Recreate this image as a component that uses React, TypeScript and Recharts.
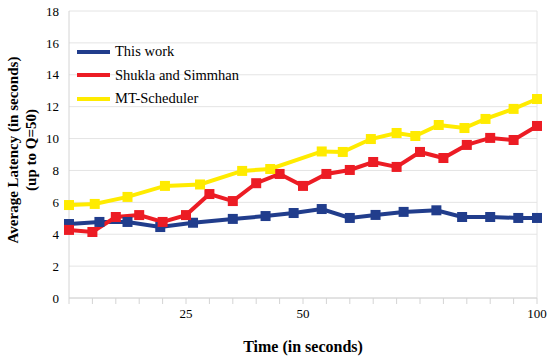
import { LineChart, Line, XAxis, YAxis, CartesianGrid, ReferenceLine, Label } from "recharts";

const seriesNames = ["This work", "Shukla and Simmhan", "MT-Scheduler"];
const seriesColors = ["#213d8c", "#ec1c24", "#ffeb00"];

const blueX = [0, 6.5, 12.5, 19.5, 26.5, 35, 42, 48, 54, 60, 65.5, 71.5, 78.5, 84, 90, 96, 100];
const blueVals = [4.64, 4.77, 4.77, 4.45, 4.72, 4.96, 5.14, 5.33, 5.58, 5.02, 5.21, 5.4, 5.5, 5.08, 5.08, 5.02, 5.02];

const redX = [0, 5, 10, 15, 20, 25, 30, 35, 40, 45, 50, 55, 60, 65, 70, 75, 80, 85, 90, 95, 100];
const redVals = [4.27, 4.14, 5.08, 5.2, 4.77, 5.2, 6.52, 6.08, 7.2, 7.78, 7.03, 7.78, 8.03, 8.53, 8.22, 9.16, 8.78, 9.6, 10.04, 9.91, 10.79];

const yellowX = [0, 5.5, 12.5, 20.5, 28, 37, 43, 54, 58.5, 64.5, 70, 74, 79, 84.5, 89, 95, 100];
const yellowVals = [5.83, 5.9, 6.34, 7.03, 7.12, 7.97, 8.09, 9.19, 9.16, 9.97, 10.35, 10.16, 10.85, 10.66, 11.23, 11.86, 12.48];

const xTicks = [0, 5, 10, 15, 20, 25, 30, 35, 40, 45, 50, 55, 60, 65, 70, 75, 80, 85, 90, 95, 100];
const xLabels = [25, 50, 100];
const yTicks = [0, 2, 4, 6, 8, 10, 12, 14, 16, 18];

const FONT = '"Liberation Serif", "Times New Roman", serif';

const toRows = (xs: number[], ys: number[]) => xs.map((x, i) => ({ x, y: ys[i] }));
const series = [toRows(blueX, blueVals), toRows(redX, redVals), toRows(yellowX, yellowVals)];

const SquareDot = (props: any) => {
  const { cx, cy, stroke } = props;
  if (cx == null || cy == null) return null;
  return <rect x={cx - 5} y={cy - 5} width={10} height={10} fill={stroke} />;
};

const YTitle = () => (
  <g fontFamily={FONT} fontWeight="bold" fontSize={15} fill="#000">
    <text x={15} y={150} transform="rotate(-90 15 150)" textAnchor="middle" dominantBaseline="middle">
      Average Latency (in seconds)
    </text>
    <text x={33} y={150} transform="rotate(-90 33 150)" textAnchor="middle" dominantBaseline="middle">
      (up to Q=50)
    </text>
  </g>
);

export default function App() {
  return (
    <div style={{ position: "relative", width: 550, height: 357, background: "#fff" }}>
      <style>{`body{margin:0}`}</style>
      <LineChart width={550} height={357} margin={{ top: 11, right: 13, left: 0, bottom: 0 }}>
        <CartesianGrid vertical={false} stroke="#e4e4e4" />
        <XAxis
          type="number"
          dataKey="x"
          domain={[0, 100]}
          ticks={xTicks}
          tickFormatter={(v) => (xLabels.includes(v) ? String(v) : "")}
          height={59}
          stroke="#d4d4d4"
          tickSize={6}
          tickMargin={5}
          tick={{ fill: "#000", fontSize: 13, fontFamily: FONT }}
          interval={0}
        >
          <Label value="Time (in seconds)" position="insideBottom" offset={5} style={{ fontFamily: FONT, fontWeight: "bold", fontSize: 16, fill: "#000" }} />
        </XAxis>
        <YAxis
          type="number"
          domain={[0, 18]}
          ticks={yTicks}
          width={69}
          stroke="#d4d4d4"
          tickLine={false}
          tickSize={0}
          tickMargin={10}
          tick={{ fill: "#000", fontSize: 13, fontFamily: FONT }}
          interval={0}
        >
          <Label content={YTitle} />
        </YAxis>
        <ReferenceLine x={100} stroke="#e4e4e4" />
        {series.map((rows, i) => (
          <Line
            key={seriesNames[i]}
            data={rows}
            dataKey="y"
            name={seriesNames[i]}
            stroke={seriesColors[i]}
            strokeWidth={4}
            dot={<SquareDot />}
            activeDot={false}
            isAnimationActive={false}
          />
        ))}
      </LineChart>
      <div style={{ position: "absolute", left: 77, top: 40, fontFamily: FONT, fontSize: 14.5 }}>
        {seriesNames.map((name, i) => (
          <div key={name} style={{ display: "flex", alignItems: "center", height: 23.5 }}>
            <svg width={33} height={6} style={{ marginRight: 5 }}>
              <line x1={0} y1={3} x2={33} y2={3} stroke={seriesColors[i]} strokeWidth={4} />
            </svg>
            <span>{name}</span>
          </div>
        ))}
      </div>
    </div>
  );
}
